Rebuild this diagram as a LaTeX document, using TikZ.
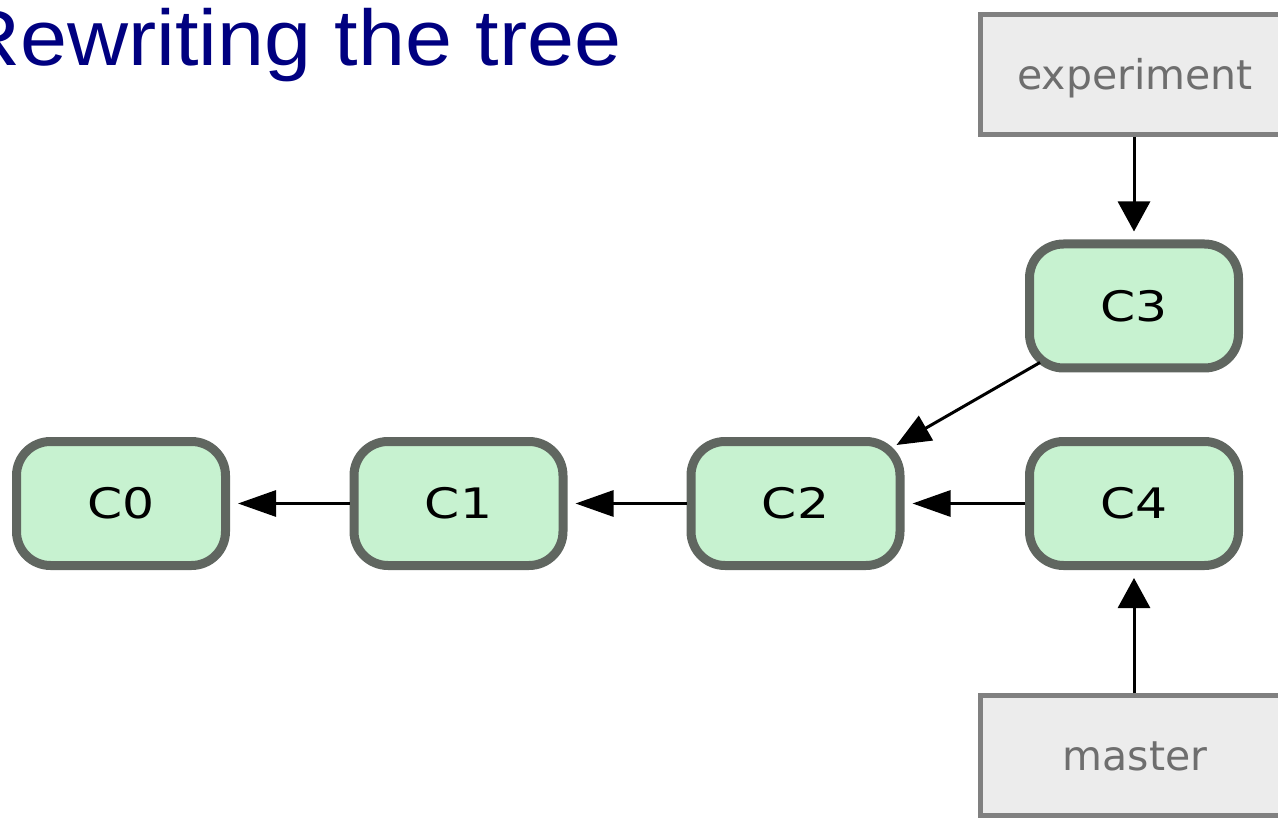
\documentclass[tikz,border=0pt]{standalone}
\usepackage{fontspec}
\newfontfamily\titlefont{Liberation Sans}
\newfontfamily\labelfont{DejaVu Sans}
\usetikzlibrary{arrows.meta}
\definecolor{titleblue}{HTML}{000080}
\definecolor{commitfill}{HTML}{C7F2D0}
\definecolor{commitdraw}{HTML}{606660}
\definecolor{branchfill}{HTML}{ECECEC}
\definecolor{branchdraw}{HTML}{808080}
\definecolor{branchtext}{HTML}{6E6E6E}
\tikzset{
  commit/.style={draw=commitdraw, fill=commitfill, line width=9pt, rounded corners=34pt,
    minimum width=209pt, minimum height=124pt, inner sep=0pt, outer sep=4.5pt,
    font=\labelfont\fontsize{42}{50}\selectfont},
  branch/.style={draw=branchdraw, fill=branchfill, line width=5pt,
    minimum width=309pt, minimum height=120pt, inner sep=0pt, outer sep=2.5pt,
    text height=40pt, text depth=10pt,
    text=branchtext, font=\labelfont\fontsize{41}{48}\selectfont},
  harr/.style={line width=3pt, -{Triangle[length=38pt,width=26pt]}, shorten >=8pt},
  varr/.style={line width=3pt, -{Triangle[length=30pt,width=32pt]}, shorten >=8pt},
  darr/.style={line width=3pt, -{Triangle[length=34pt,width=28pt]}},
}
\begin{document}
\begin{tikzpicture}[x=1pt,y=-1pt]
\useasboundingbox (0,0) rectangle (1278,818);
\node[anchor=base west, inner sep=0pt, text=titleblue, font=\titlefont\fontsize{79}{95}\selectfont] (title) at (-41,66) {\scalebox{1.07}[1]{Rewriting the tree}};
\node[commit] (C0) at (121,503.5) {\scalebox{1.2}[1]{C0}};
\node[commit] (C1) at (458.5,503.5) {\scalebox{1.2}[1]{C1}};
\node[commit] (C2) at (795.5,503.5) {\scalebox{1.2}[1]{C2}};
\node[commit] (C4) at (1134,503.5) {\scalebox{1.2}[1]{C4}};
\node[commit] (C3) at (1134,306) {\scalebox{1.2}[1]{C3}};
\node[branch] (exp) at (1135,74.5) {experiment};
\node[branch] (master) at (1135,755.5) {master};
\draw[harr] (C1) -- (C0);
\draw[harr] (C2) -- (C1);
\draw[harr] (C4) -- (C2);
\draw[darr] ([shift={(15,-10)}]C3.south west) -- ([shift={(-8,8)}]C2.north east);
\draw[varr] (C3 |- exp.south) -- (C3);
\draw[varr] (C4 |- master.north) -- (C4);
\end{tikzpicture}
\end{document}
